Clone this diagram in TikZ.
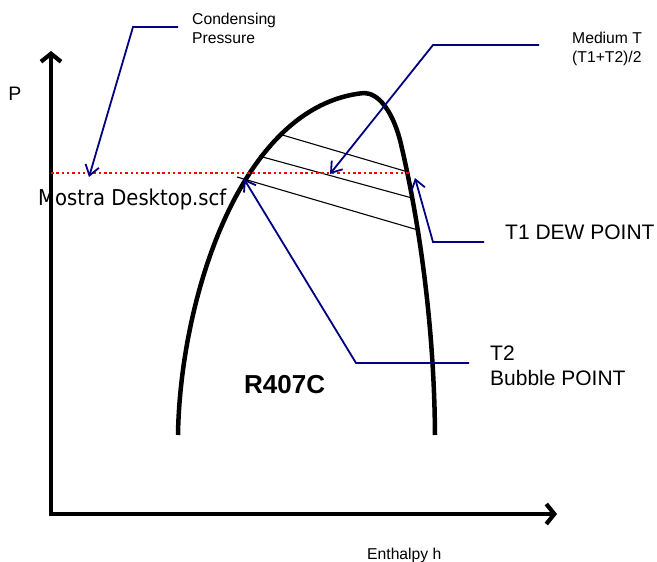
\documentclass[tikz,border=0pt]{standalone}
\usepackage{fontspec}
\setmainfont{Liberation Sans}
\newfontfamily\mostrafont{DejaVu Sans Condensed}
\usetikzlibrary{arrows.meta}
\definecolor{navy}{RGB}{0,0,128}
\tikzset{
  axis/.style={line width=4.2pt,-{Straight Barb[length=8pt,width=20pt]}},
  dome/.style={line width=4.5pt,line join=round},
  tie/.style={line width=1.1pt},
  leader/.style={navy,line width=1.8pt,-{Straight Barb[length=10pt,width=14pt]}},
  small/.style={font=\fontsize{15.7}{18.5}\selectfont,inner sep=0pt,align=left},
  big/.style={font=\fontsize{21}{25}\selectfont,inner sep=0pt,align=left},
}
\begin{document}
\begin{tikzpicture}[x=1pt,y=-1pt]
\useasboundingbox (0,0) rectangle (657,562);

\draw[axis] (51,516) -- (51,51);
\draw[axis] (49,514) -- (557,514);

\draw[dome] (178,435) .. controls (180,300) and (240,105) .. (364,93)
  .. controls (378,93) and (392,110) .. (400,140)
  .. controls (412,190) and (434,300) .. (435,435);

\draw[tie] (279,134) -- (408,172);
\draw[tie] (259,156) -- (412,198);
\draw[tie] (237,177) -- (418,230);

\draw[red,line width=2.6pt,dash pattern=on 2.5pt off 2.8pt] (51,173) -- (410,173);

\node[font=\fontsize{19.5}{22}\selectfont,inner sep=0pt] (plabel) at (15,94) {P};
\node[small,anchor=base west] (cond) at (192,43) {Condensing\\Pressure};
\node[small,anchor=base west] (medium) at (572,62) {Medium T\\(T1+T2)/2};
\node[big,anchor=base west] (dew) at (505,239) {T1 DEW POINT};
\node[big,anchor=base west] (bubble) at (490,385) {T2\\Bubble POINT};
\node[font=\fontsize{26}{30}\selectfont\bfseries,inner sep=0pt,anchor=base west] (fluid) at (244,393) {R407C};
\node[small,anchor=base west] (enthalpy) at (367,559) {Enthalpy h};
\node[font=\fontsize{21.8}{25}\mostrafont,inner sep=0pt,anchor=base west] (mostra) at (38,205) {Mostra Desktop.scf};

\coordinate (condstart) at (178,27);
\coordinate (condknee) at (133,27);
\coordinate (condtip) at (89,177);
\coordinate (medstart) at (539,45);
\coordinate (medknee) at (433,45);
\coordinate (medtip) at (330,174);
\coordinate (dewstart) at (484,242);
\coordinate (dewknee) at (433,242);
\coordinate (dewtip) at (415,178);
\coordinate (bubstart) at (469,363);
\coordinate (bubknee) at (356,363);
\coordinate (bubtip) at (244,179);

\draw[leader] (condstart) -- (condknee) -- (condtip);
\draw[leader] (medstart) -- (medknee) -- (medtip);
\draw[leader] (dewstart) -- (dewknee) -- (dewtip);
\draw[leader] (bubstart) -- (bubknee) -- (bubtip);
\end{tikzpicture}
\end{document}
